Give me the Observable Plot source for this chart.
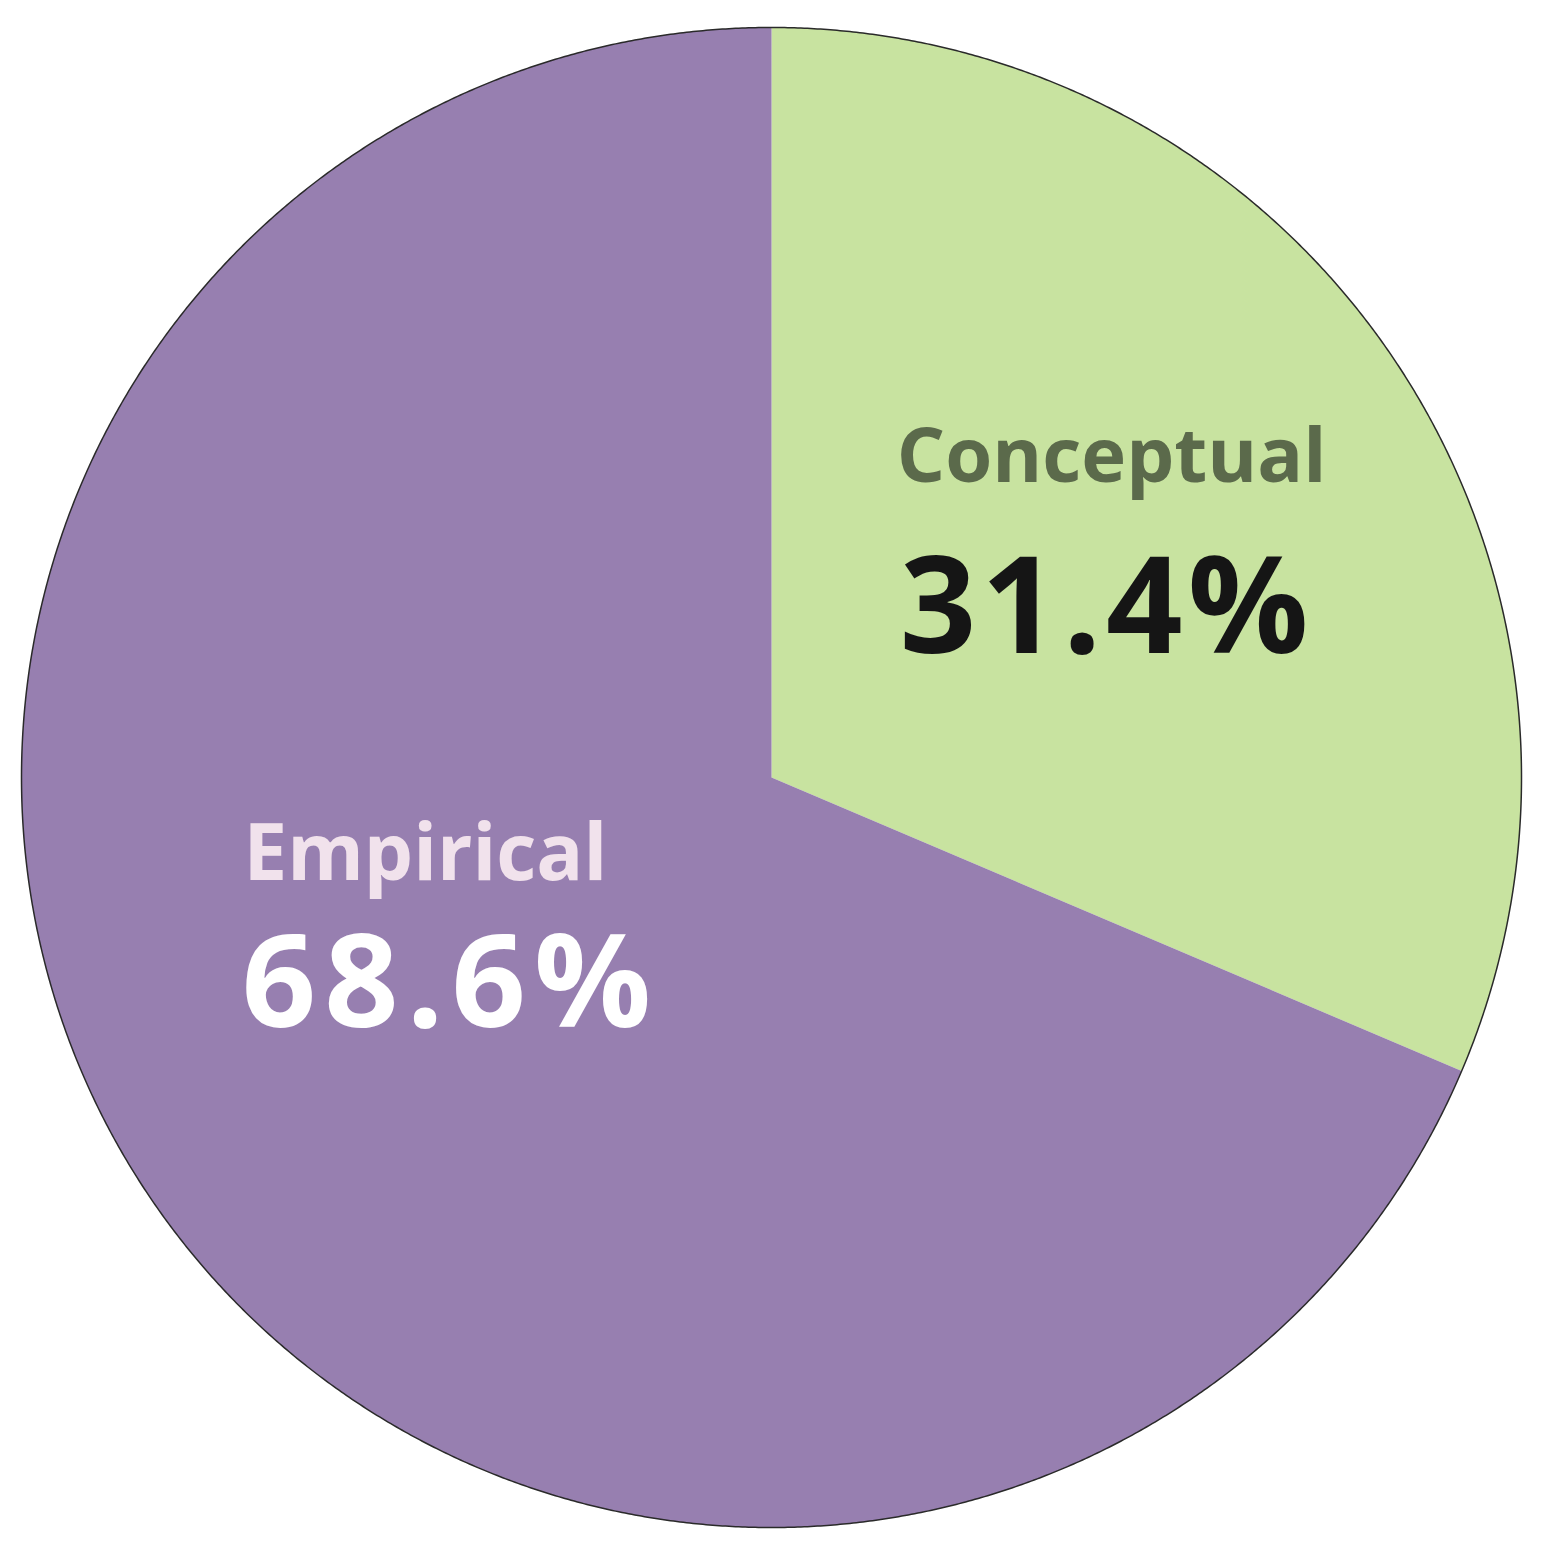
<!DOCTYPE html>
<html>
<head>
<meta charset="utf-8">
<script src="https://cdn.jsdelivr.net/npm/d3@7"></script>
<script src="https://cdn.jsdelivr.net/npm/@observablehq/plot@0.6"></script>
<style>
  html, body { margin: 0; padding: 0; background: #ffffff; }
  #chart svg { display: block; }
</style>
</head>
<body>
<div id="chart"></div>
<script>
// ---- data ----
const categories = ["Conceptual", "Empirical"];
const shares = [31.4, 68.6];
const valueLabels = ["31.4%", "68.6%"];

// ---- styles ----
const sliceColors = ["#c8e3a0", "#977fb0"];
const nameColors = ["#5b6a4b", "#f1e2ec"];
const valueColors = ["#151515", "#ffffff"];
const valueSpacing = [5, 8];

const rows = categories.map((c, i) => ({category: c, share: shares[i], label: valueLabels[i], i}));
const arcs = d3.pie().sort(null).value(d => d.share)(rows);

// slice polygons in unit-circle space (angle 0 = 12 o'clock, clockwise)
const step = Math.PI / 720;
const slicePts = [];
arcs.forEach(s => {
  const n = Math.max(2, Math.ceil((s.endAngle - s.startAngle) / step));
  slicePts.push({category: s.data.category, x: 0, y: 0});
  for (let k = 0; k <= n; k++) {
    const a = s.startAngle + (s.endAngle - s.startAngle) * k / n;
    slicePts.push({category: s.data.category, x: Math.sin(a), y: Math.cos(a)});
  }
});
const outline = d3.range(0, 1441).map(k => {
  const a = 2 * Math.PI * k / 1440;
  return {x: Math.sin(a), y: Math.cos(a)};
});

// label anchors at each slice's mid angle
const labelR = 0.55;
const labels = arcs.map(s => {
  const a = (s.startAngle + s.endAngle) / 2;
  return {...s.data, x: labelR * Math.sin(a), y: labelR * Math.cos(a)};
});

const font = "'Open Sans', 'Noto Sans', sans-serif";
const nameMark = (i, size, dx, dy) => Plot.text(labels.filter(d => d.i === i), {
  x: "x", y: "y", text: "category", fill: nameColors[i],
  fontSize: size, fontWeight: "bold", fontFamily: font, dx, dy
});
const valueMark = (i, size, dx, dy) => Plot.text(labels.filter(d => d.i === i), {
  x: "x", y: "y", text: "label", fill: valueColors[i],
  fontSize: size, fontWeight: "bold", fontFamily: font, dx, dy
});

const chart = Plot.plot({
  width: 1546,
  height: 1551,
  margin: 0,
  x: {domain: [-1, 1], range: [21, 1521], axis: null},
  y: {domain: [-1, 1], range: [1527, 27], axis: null},
  color: {domain: categories, range: sliceColors},
  style: {background: "#ffffff"},
  marks: [
    Plot.line(slicePts, {x: "x", y: "y", z: "category", fill: "category", stroke: "none"}),
    Plot.line(outline, {x: "x", y: "y", stroke: "#2a2a2a", strokeWidth: 1.5}),
    nameMark(0, 76, -4, -92),
    valueMark(0, 134, -9, 60),
    nameMark(1, 78, -2, -150),
    valueMark(1, 130, 23, -20)
  ]
});
// widen the bold percentage labels a little (reference face has wider digits)
d3.select(chart).selectAll("text").each(function() {
  const k = valueLabels.indexOf(this.textContent);
  if (k >= 0) this.style.letterSpacing = valueSpacing[k] + "px";
});
document.getElementById("chart").append(chart);
</script>
</body>
</html>
